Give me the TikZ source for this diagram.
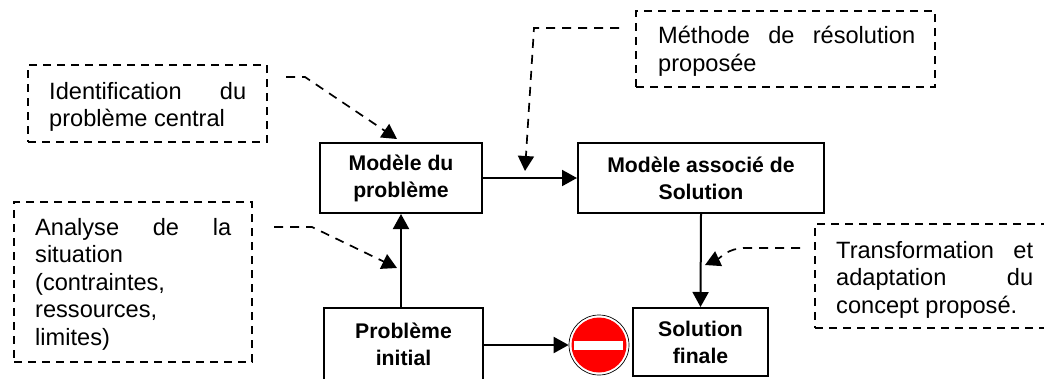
\documentclass[tikz,border=0pt]{standalone}
\usepackage{fontspec}
\setmainfont{Liberation Sans}
\usetikzlibrary{arrows.meta}
\tikzset{
  x=1pt,y=-1pt,
  solidbox/.style={draw=black,line width=2pt,fill=white,inner sep=0pt,align=center,font=\bfseries\fontsize{21.2}{27}\selectfont},
  note/.style={draw=black,line width=1.7pt,dash pattern=on 8pt off 6pt,inner sep=0pt},
  notetext/.style={inner sep=0pt,anchor=base west,align=left,font=\fontsize{23.6}{27.5}\selectfont},
  link/.style={line width=2pt,-{Triangle[length=15pt,width=16pt]}},
  dlink/.style={line width=1.7pt,dash pattern=on 9pt off 7pt,-{Triangle[length=15pt,width=16pt]}}
}
\newcommand{\fillline}[2]{\makebox[#1][s]{#2}}
\begin{document}
\begin{tikzpicture}
\useasboundingbox (0,0) rectangle (1044,378);
\node[solidbox,minimum width=162pt,minimum height=70pt] (mod) at (401,178) {Modèle du\\problème};
\node[solidbox,minimum width=246pt,minimum height=70pt] (assoc) at (701,178) {Modèle associé de\\Solution};
\node[solidbox,minimum width=159pt,minimum height=72pt] (init) at (403.5,344) {Problème\\initial};
\node[solidbox,minimum width=135pt,minimum height=68pt] (sol) at (700.5,342) {\raisebox{-1.5pt}{Solution}\\\raisebox{-1.5pt}{finale}};
% notes
\node[note,minimum width=239pt,minimum height=77pt] (n1) at (147.5,103.5) {};
\node[notetext] (t1) at (49,126.5) {\fillline{197pt}{Identification du}\\problème central};
\node[note,minimum width=238pt,minimum height=160pt] (n2) at (133,282) {};
\node[notetext] (t2) at (35,345) {\fillline{196pt}{Analyse de la}\\situation\\(contraintes,\\ressources,\\limites)};
\node[note,minimum width=299pt,minimum height=76pt] (n3) at (785.5,49) {};
\node[notetext] (t3) at (658,71) {\fillline{257pt}{Méthode de résolution}\\proposée};
\node[note,minimum width=240pt,minimum height=104pt] (n4) at (935,276) {};
\node[notetext] (t4) at (836,313) {\fillline{197pt}{Transformation et}\\\fillline{197pt}{adaptation du}\\concept proposé.};
% sign
\node[circle,draw=black,fill=white,line width=0.7pt,minimum size=60pt,inner sep=0pt] (sign) at (599,345) {};
\fill[red] (sign.center) circle (27.5pt);
\fill[white] (574,341) rectangle (623,349.5);
% links
\draw[link] (mod.east) -- (assoc.west);
\draw[link] (mod.south |- init.north) -- (mod.south);
\draw[link] (init.east |- sign.west) -- (sign.west);
\draw[link] (assoc.south) -- (sol.north);
\coordinate (a1) at (286,77); \coordinate (b1) at (305,77); \coordinate (c1) at (397,139);
\coordinate (a2) at (274,227); \coordinate (b2) at (312,227); \coordinate (c2) at (397,268);
\coordinate (a3) at (619,28); \coordinate (b3) at (534,28); \coordinate (c3) at (525,171);
\coordinate (a4) at (800,248); \coordinate (b4) at (745,248); \coordinate (c4) at (705,265);
\draw[dlink] (a1) -- (b1) -- (c1);
\draw[dlink] (a2) -- (b2) -- (c2);
\draw[dlink] (a3) -- (b3) -- (c3);
\draw[dlink] (a4) -- (b4) to[out=180,in=25] (c4);
\end{tikzpicture}
\end{document}
